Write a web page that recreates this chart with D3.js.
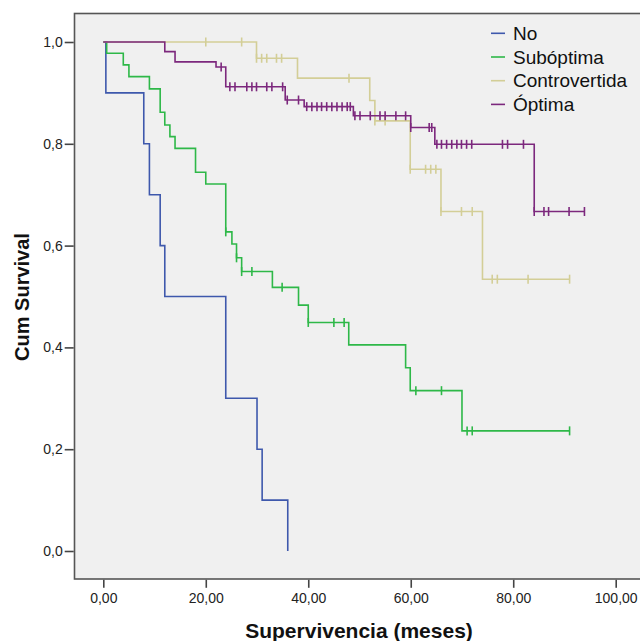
<!DOCTYPE html>
<html>
<head>
<meta charset="utf-8">
<script src="https://cdn.jsdelivr.net/npm/d3@7"></script>
<style>
  html, body { margin: 0; padding: 0; background: #ffffff; }
  svg { display: block; }
</style>
</head>
<body>
<svg id="chart" width="640" height="641"></svg>
<script>
// ---------------- DATA ----------------
const groups = ["No", "Subóptima", "Controvertida", "Óptima"];
const colors = ["#3e58ac", "#2eb848", "#d3ce97", "#7c287d"];

const xTicks = [0, 20, 40, 60, 80, 100];
const yTicks = [0, 0.2, 0.4, 0.6, 0.8, 1.0];

// event times and survival after each event
const noTimes = [0.5, 7.9, 9.0, 11.1, 12.0, 23.9, 30.0, 31.0, 36.0];
const noSurv  = [0.90, 0.80, 0.70, 0.60, 0.50, 0.30, 0.20, 0.10, 0.00];
const noCens  = [];
const noEnd   = 36.0;

const subTimes = [0.66, 3.9, 5.0, 9.0, 11.1, 12.0, 13.0, 14.0, 18.0, 20.0, 23.9, 25.1, 26.0, 27.0, 33.0, 38.1, 40.0, 47.9, 59.0, 59.9, 70.0];
const subSurv  = [0.978, 0.955, 0.932, 0.908, 0.862, 0.837, 0.814, 0.791, 0.744, 0.721, 0.627, 0.603, 0.576, 0.549, 0.518, 0.483, 0.449, 0.405, 0.360, 0.315, 0.236];
const subCens  = [23.9, 26.0, 27.0, 29.0, 34.9, 40.0, 45.0, 47.0, 61.0, 66.0, 71.0, 72.0, 91.0];
const subEnd   = 91.0;

const conTimes = [29.9, 37.9, 52.0, 53.0, 59.9, 65.9, 74.0];
const conSurv  = [0.968, 0.929, 0.885, 0.845, 0.750, 0.667, 0.534];
const conCens  = [20.0, 27.0, 29.9, 30.9, 31.9, 33.8, 34.8, 47.95, 53.0, 55.0, 59.9, 62.9, 63.9, 64.9, 65.9, 69.9, 72.0, 75.9, 76.9, 82.9, 91.0];
const conEnd   = 91.0;

const optTimes = [12.0, 14.0, 22.0, 23.9, 35.5, 39.2, 48.8, 60.0, 64.7, 84.1];
const optSurv  = [0.981, 0.961, 0.951, 0.912, 0.886, 0.873, 0.855, 0.832, 0.799, 0.667];
const optCens  = [23.0, 24.7, 25.7, 28.0, 29.0, 29.9, 31.9, 32.9, 35.0, 35.9, 38.1,
                  39.7, 40.7, 41.7, 42.6, 43.6, 44.6, 45.6, 46.6, 47.6, 48.2,
                  49.1, 50.1, 52.1, 54.0, 55.0, 57.1, 59.0,
                  60.0, 63.6, 64.1,
                  65.1, 66.0, 67.0, 68.0, 69.0, 69.9, 70.9, 71.9, 77.9, 78.9, 82.0,
                  84.1, 86.0, 86.9, 90.9, 93.9];
const optEnd   = 93.9;

const series = [
  { name: groups[0], color: colors[0], times: noTimes,  surv: noSurv,  cens: noCens,  end: noEnd },
  { name: groups[1], color: colors[1], times: subTimes, surv: subSurv, cens: subCens, end: subEnd },
  { name: groups[2], color: colors[2], times: conTimes, surv: conSurv, cens: conCens, end: conEnd },
  { name: groups[3], color: colors[3], times: optTimes, surv: optSurv, cens: optCens, end: optEnd }
];

// ---------------- LAYOUT ----------------
const svg = d3.select("#chart");
const frame = { left: 74.5, top: 13.5, right: 642, bottom: 579 };

const x = d3.scaleLinear().domain([0, 100]).range([103.3, 615.7]);
const y = d3.scaleLinear().domain([0, 1]).range([551, 42]);

const fontFam = "'Liberation Sans', Arial, Helvetica, sans-serif";

// frame
svg.append("rect")
  .attr("x", frame.left).attr("y", frame.top)
  .attr("width", frame.right - frame.left).attr("height", frame.bottom - frame.top)
  .attr("fill", "#f0f0f0").attr("stroke", "#555").attr("stroke-width", 1.6);

// axes
const fmtX = d => d3.format(".2f")(d).replace(".", ",");
const fmtY = d => d3.format(".1f")(d).replace(".", ",");

const xAxis = svg.append("g")
  .attr("transform", `translate(0,${frame.bottom + 0.8})`)
  .call(d3.axisBottom(x).tickValues(xTicks).tickFormat(fmtX).tickSize(8).tickPadding(5));
xAxis.select(".domain").remove();

const yAxis = svg.append("g")
  .attr("transform", `translate(${frame.left - 0.8},0)`)
  .call(d3.axisLeft(y).tickValues(yTicks).tickFormat(fmtY).tickSize(9).tickPadding(2));
yAxis.select(".domain").remove();

[xAxis, yAxis].forEach(g => {
  g.selectAll(".tick line").attr("stroke", "#444").attr("stroke-width", 1.6);
  g.selectAll(".tick text").attr("fill", "#222").style("font-family", fontFam).style("font-size", "14px");
});

// axis titles
svg.append("text")
  .attr("x", 359).attr("y", 638)
  .attr("text-anchor", "middle")
  .style("font-family", fontFam).style("font-size", "21px").style("font-weight", "bold")
  .attr("fill", "#111")
  .text("Supervivencia (meses)");

svg.append("text")
  .attr("transform", "translate(29,297) rotate(-90)")
  .attr("text-anchor", "middle")
  .style("font-family", fontFam).style("font-size", "20px").style("font-weight", "bold")
  .attr("fill", "#111")
  .text("Cum Survival");

// curves
const line = d3.line().x(d => x(d[0])).y(d => y(d[1])).curve(d3.curveStepAfter);

function survAt(s, t) {
  let v = 1;
  for (let i = 0; i < s.times.length; i++) {
    if (s.times[i] <= t + 1e-9) v = s.surv[i]; else break;
  }
  return v;
}

const plot = svg.append("g");
series.forEach(s => {
  const pts = [[0, 1]];
  s.times.forEach((t, i) => pts.push([t, s.surv[i]]));
  const lastT = s.times[s.times.length - 1];
  if (s.end > lastT) pts.push([s.end, s.surv[s.surv.length - 1]]);
  const g = plot.append("g");
  g.append("path")
    .attr("d", line(pts))
    .attr("fill", "none")
    .attr("stroke", s.color)
    .attr("stroke-width", 1.6);
  g.selectAll("line.cens")
    .data(s.cens)
    .join("line")
    .attr("class", "cens")
    .attr("x1", d => x(d)).attr("x2", d => x(d))
    .attr("y1", d => y(survAt(s, d)) - 4.5)
    .attr("y2", d => y(survAt(s, d)) + 4.5)
    .attr("stroke", s.color)
    .attr("stroke-width", 1.6);
});

// legend
const legend = svg.append("g");
series.forEach((s, i) => {
  const cy = 33.3 + i * 23.7;
  legend.append("line")
    .attr("x1", 491).attr("x2", 505)
    .attr("y1", cy).attr("y2", cy)
    .attr("stroke", s.color).attr("stroke-width", 1.6);
  legend.append("text")
    .attr("x", 513).attr("y", cy)
    .attr("dy", "0.35em")
    .style("font-family", fontFam).style("font-size", "19px")
    .attr("fill", "#111")
    .text(s.name);
});
</script>
</body>
</html>
